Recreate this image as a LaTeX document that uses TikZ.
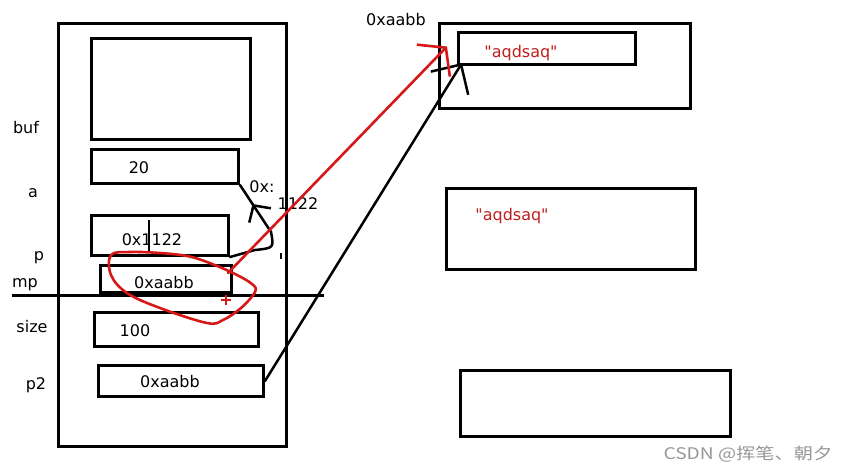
\documentclass[tikz,border=0pt]{standalone}
\usepackage{fontspec}
\setmainfont{DejaVu Sans}[Ligatures=TeXOff]
\newfontfamily\cjkfont[FakeStretch=1.2]{Noto Sans CJK SC}
\usepackage{tikz}
\usetikzlibrary{arrows.meta,positioning,decorations.markings}
\definecolor{inkred}{RGB}{214,24,24}
\definecolor{txtred}{RGB}{190,30,30}
\definecolor{markgray}{RGB}{150,150,150}

\begin{document}
\begin{tikzpicture}[x=1pt, y=-1pt,
    cell/.style={draw, rectangle, line width=3pt, anchor=north west, inner sep=0pt},
    val/.style={anchor=base, font=\fontsize{16}{18}\selectfont},
    strval/.style={val, text=txtred},
    ptr/.style={draw, line width=2.5pt, line cap=round, line join=round},
    redptr/.style={draw=inkred, line width=2.6pt, line cap=round, line join=round}
]
\useasboundingbox (0,0) rectangle (848,472);

\node[cell, minimum width=228pt, minimum height=423pt] (stack) at (57,22) {};
\node[cell, minimum width=159pt, minimum height=101pt] (bufcell) at (90,37) {};
\node[cell, minimum width=147pt, minimum height=34pt] (acell) at (90,148) {};
\node[cell, minimum width=137pt, minimum height=40pt] (pcell) at (90,214) {};
\node[cell, minimum width=131pt, minimum height=27pt] (mpcell) at (99,264) {};
\node[cell, minimum width=164pt, minimum height=34pt] (sizecell) at (93,311) {};
\node[cell, minimum width=165pt, minimum height=31pt] (ptwocell) at (97,364) {};

\node[cell, minimum width=251pt, minimum height=85pt] (heapa) at (438,22) {};
\node[cell, minimum width=177pt, minimum height=32pt] (strcell) at (457,31) {};
\node[cell, minimum width=249pt, minimum height=81pt] (heapb) at (445,187) {};
\node[cell, minimum width=270pt, minimum height=66pt] (heapc) at (459,369) {};

\node[val] (lbuf) at (26,133) {buf};
\node[val] (la) at (33,197) {a};
\node[val] (lp) at (39,260) {p};
\node[val] (lmp) at (25,287) {mp};
\node[val] (lsize) at (32,332) {size};
\node[val] (lptwo) at (36,389) {p2};

\node[val] (vala) at (139,173) {20};
\node[val] (valp) at (152,245) {0x1122};
\node[val] (valmp) at (164,288) {0xaabb};
\node[val] (valsize) at (135,336) {100};
\node[val] (valptwo) at (170,387) {0xaabb};

\node[val] (addr) at (396,25) {0xaabb};
\node[strval] (stra) at (521,57) {"aqdsaq"};
\node[strval] (strb) at (512,220) {"aqdsaq"};
\node[val] (addrpa) at (262,192) {0x:};
\node[val] (addrpb) at (298,209) {1122};

\draw[line width=3pt] (12,295) -- (324,295);
\draw[line width=2pt] (149,220) -- (149,252);
\draw[line width=1.5pt] (281,253) -- (281,259);

\draw[ptr, postaction={decorate}, decoration={markings,
    mark=at position 0.8 with {\arrow{Straight Barb[length=12pt, width=26pt, line width=2.5pt]}}}]
    (pcell.south east) -- (255,250) .. controls (274,248) .. (271,232) -- (acell.south east);

\draw[ptr, -{Straight Barb[length=22pt, width=44pt]}] (ptwocell.east) -- ([xshift=5pt, yshift=3pt]strcell.south west);

\draw[redptr, -{Straight Barb[length=18pt, width=46pt]}] (228,273) -- ([xshift=-10pt, yshift=2pt]strcell.west);

\draw[redptr] plot[smooth cycle, tension=0.6] coordinates {(111,255) (111,275) (127,293) (160,308) (207,323) (223,320) (241,308) (255,292) (252,284) (233,273) (207,262) (187,256) (160,253) (130,252)};
\draw[inkred, line width=1.8pt] (221,300) -- (231,300) (226,295) -- (226,305);

\node[anchor=base west, text=markgray, font=\cjkfont\fontsize{16}{18}\selectfont] (mark) at (660,459) {CSDN @挥笔、朝夕};
\end{tikzpicture}
\end{document}
